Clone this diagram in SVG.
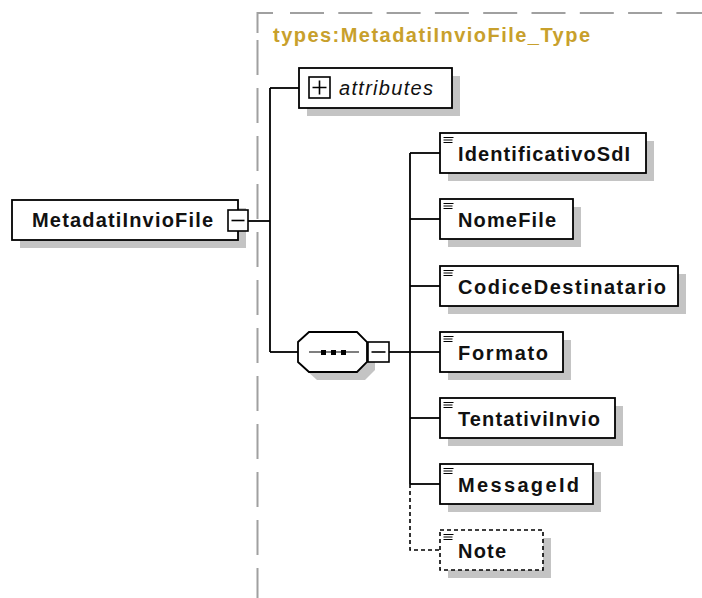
<svg xmlns="http://www.w3.org/2000/svg" width="702" height="598" viewBox="0 0 702 598">
<defs>
<style>
.bg{fill:#ffffff}
.shadow{fill:#c4c4c4;stroke:none}
.box{fill:#ffffff;stroke:#000;stroke-width:1.8}
.dbox{fill:#ffffff;stroke:#000;stroke-width:1.6;stroke-dasharray:4 3}
.btn{fill:#ffffff;stroke:#000;stroke-width:1.6}
.sign{stroke:#000;stroke-width:1.6;fill:none}
.icon{stroke:#000;stroke-width:1.1;fill:none}
.conn{stroke:#000;stroke-width:1.8;fill:none}
.dconn{stroke:#000;stroke-width:1.6;fill:none;stroke-dasharray:4 3}
.frame{stroke:#a0a0a0;stroke-width:2;fill:none}
.name{font-family:"Liberation Sans",Arial,sans-serif;font-weight:bold;font-size:20px;fill:#111}
.title{font-family:"Liberation Sans",Arial,sans-serif;font-weight:bold;font-size:20px;fill:#c8a02c}
.attr{font-family:"Liberation Sans",Arial,sans-serif;font-style:italic;font-size:20px;fill:#111}
</style>
<g id="elicon"><path class="icon" d="M3.5,4.5 H13.5 M3.5,7 H12.5 M3.5,9.5 H12.5"/></g>
</defs>
<rect class="bg" x="0" y="0" width="702" height="598"/>

<g id="frame">
<path class="frame" d="M257.5,33 V13 H273"/>
<line class="frame" x1="257.5" y1="40" x2="257.5" y2="598" stroke-dasharray="35 13"/>
<line class="frame" x1="290" y1="13" x2="702" y2="13" stroke-dasharray="34 14.3"/>
<text class="title" x="273" y="42" textLength="317" lengthAdjust="spacing">types:MetadatiInvioFile_Type</text>
</g>

<g id="connectors">
<line class="conn" x1="248" y1="221" x2="270" y2="221"/>
<line class="conn" x1="270" y1="88" x2="270" y2="352"/>
<line class="conn" x1="270" y1="88" x2="299" y2="88"/>
<line class="conn" x1="270" y1="352" x2="298" y2="352"/>
<line class="conn" x1="389" y1="352" x2="410" y2="352"/>
<line class="conn" x1="410" y1="153" x2="410" y2="484"/>
<line class="conn" x1="410" y1="153" x2="440" y2="153"/>
<line class="conn" x1="410" y1="219" x2="440" y2="219"/>
<line class="conn" x1="410" y1="286" x2="440" y2="286"/>
<line class="conn" x1="410" y1="352" x2="440" y2="352"/>
<line class="conn" x1="410" y1="418" x2="440" y2="418"/>
<line class="conn" x1="410" y1="484" x2="440" y2="484"/>
<path class="dconn" d="M410,484 V550 H440"/>
</g>

<g id="root">
<rect class="shadow" x="20" y="208" width="226" height="40"/>
<rect class="box" x="12" y="200" width="226" height="40"/>
<text class="name" x="32" y="227" textLength="181" lengthAdjust="spacing">MetadatiInvioFile</text>
<rect class="btn" x="228" y="210" width="20" height="21"/>
<line class="sign" x1="231.5" y1="220.5" x2="244.5" y2="220.5"/>
</g>

<g id="attributes">
<rect class="shadow" x="307" y="76" width="153" height="40"/>
<rect class="box" x="299" y="68" width="153" height="40"/>
<rect class="btn" x="309" y="77" width="21" height="21"/>
<path class="sign" d="M312.5,87.5 H326.5 M319.5,80.5 V94.5"/>
<text class="attr" x="339" y="94.5" textLength="94" lengthAdjust="spacing">attributes</text>
</g>

<g id="sequence">
<polygon class="shadow" points="317,340 365,340 375,350 375,370 365,380 317,380 306,370 306,350"/>
<polygon class="box" points="309,332 357,332 367,342 367,362 357,372 309,372 298,362 298,342"/>
<line class="icon" x1="309" y1="352" x2="359" y2="352" stroke-width="1.4"/>
<rect x="321" y="350" width="5" height="5" fill="#000"/>
<rect x="331" y="350" width="5" height="5" fill="#000"/>
<rect x="341" y="350" width="5" height="5" fill="#000"/>
<rect class="btn" x="368" y="342" width="21" height="20"/>
<line class="sign" x1="371.5" y1="352" x2="385.5" y2="352"/>
</g>

<g id="IdentificativoSdI">
<rect class="shadow" x="448" y="141" width="206" height="40"/>
<rect class="box" x="440" y="133" width="206" height="40"/>
<use href="#elicon" x="440" y="133"/>
<text class="name" x="458" y="160.5" textLength="172" lengthAdjust="spacing">IdentificativoSdI</text>
</g>

<g id="NomeFile">
<rect class="shadow" x="448" y="207" width="133" height="40"/>
<rect class="box" x="440" y="199" width="133" height="40"/>
<use href="#elicon" x="440" y="199"/>
<text class="name" x="458" y="227" textLength="98" lengthAdjust="spacing">NomeFile</text>
</g>

<g id="CodiceDestinatario">
<rect class="shadow" x="448" y="274" width="238" height="40"/>
<rect class="box" x="440" y="266" width="238" height="40"/>
<use href="#elicon" x="440" y="266"/>
<text class="name" x="458" y="293.5" textLength="208" lengthAdjust="spacing">CodiceDestinatario</text>
</g>

<g id="Formato">
<rect class="shadow" x="448" y="340" width="123" height="40"/>
<rect class="box" x="440" y="332" width="123" height="40"/>
<use href="#elicon" x="440" y="332"/>
<text class="name" x="458" y="359.5" textLength="90" lengthAdjust="spacing">Formato</text>
</g>

<g id="TentativiInvio">
<rect class="shadow" x="448" y="406" width="175" height="40"/>
<rect class="box" x="440" y="398" width="175" height="40"/>
<use href="#elicon" x="440" y="398"/>
<text class="name" x="458" y="425.5" textLength="142" lengthAdjust="spacing">TentativiInvio</text>
</g>

<g id="MessageId">
<rect class="shadow" x="448" y="472" width="153" height="40"/>
<rect class="box" x="440" y="464" width="153" height="40"/>
<use href="#elicon" x="440" y="464"/>
<text class="name" x="458" y="491.5" textLength="121" lengthAdjust="spacing">MessageId</text>
</g>

<g id="Note">
<rect class="shadow" x="448" y="538" width="103" height="40"/>
<rect class="dbox" x="440" y="530" width="103" height="40"/>
<use href="#elicon" x="440" y="530"/>
<text class="name" x="458" y="557.5" textLength="48" lengthAdjust="spacing">Note</text>
</g>
</svg>
